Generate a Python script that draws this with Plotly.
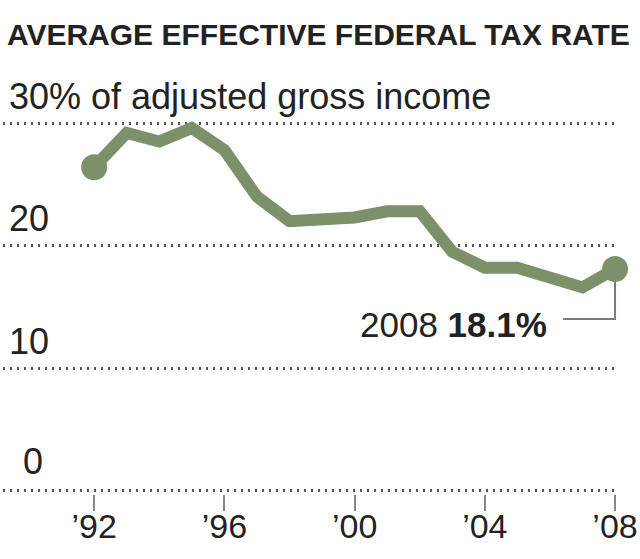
import plotly.graph_objects as go

years = list(range(1992, 2009))
rates = [26.4, 29.2, 28.5, 29.6, 27.8, 24.0, 22.0, 22.1, 22.3, 22.8, 22.8,
         19.5, 18.2, 18.2, 17.4, 16.6, 18.1]

xtick_vals = [1992, 1996, 2000, 2004, 2008]
xtick_text = ["’92", "’96", "’00", "’04", "’08"]
ytick_vals = [0, 10, 20, 30]
ytick_text = ["0", "10", "20", "30% of adjusted gross income"]

title_text = "AVERAGE EFFECTIVE FEDERAL TAX RATE"
callout_year = "2008"
callout_value = "18.1%"

line_color = "#7c9069"
font_family = "Liberation Sans, Arial, sans-serif"

fig = go.Figure()
fig.add_trace(go.Scatter(
    x=years, y=rates, mode="lines",
    line=dict(color=line_color, width=12),
    cliponaxis=False, hoverinfo="skip", showlegend=False,
))
fig.add_trace(go.Scatter(
    x=[years[0], years[-1]], y=[rates[0], rates[-1]], mode="markers",
    marker=dict(color=line_color, size=26),
    cliponaxis=False, hoverinfo="skip", showlegend=False,
))

annotations = []
annotations.append(dict(
    text="<b>" + title_text + "</b>", xref="paper", yref="paper",
    x=0, y=1, xshift=2, yshift=86, xanchor="left", yanchor="middle",
    showarrow=False, font=dict(size=30, color="#222", family=font_family),
))
for v, t in zip(ytick_vals, ytick_text):
    if len(t) == 1:
        annotations.append(dict(text=t, xref="paper", yref="y", x=0, y=v,
                                xshift=42, yshift=29, xanchor="right", yanchor="middle",
                                showarrow=False,
                                font=dict(size=36, color="#222", family=font_family)))
    else:
        annotations.append(dict(text=t, xref="paper", yref="y", x=0, y=v,
                                xshift=4, yshift=27, xanchor="left", yanchor="middle",
                                showarrow=False,
                                font=dict(size=36, color="#222", family=font_family)))
annotations.append(dict(
    text=callout_year + " <b>" + callout_value + "</b>",
    xref="x", yref="y", x=years[-1], y=rates[-1], xshift=-66, yshift=-56,
    xanchor="right", yanchor="middle", showarrow=False,
    font=dict(size=35, color="#222", family=font_family),
))

fig.add_shape(
    type="path", xref="x", yref="y", xsizemode="pixel", ysizemode="pixel",
    xanchor=years[-1], yanchor=rates[-1],
    path="M -52,-50 L 0,-50 L 0,-8",
    line=dict(color="#7a7a7a", width=2), layer="below",
)

fig.update_layout(
    width=640, height=559,
    margin=dict(l=3, r=23, t=120, b=65),
    plot_bgcolor="white", paper_bgcolor="white",
    font=dict(family=font_family, color="#222"),
    annotations=annotations,
    xaxis=dict(
        range=[1989.2, 2008.06], tickvals=xtick_vals, ticktext=xtick_text,
        showgrid=False, zeroline=False, showline=False,
        ticks="outside", ticklen=16, tickwidth=2, tickcolor="#888",
        ticklabelstandoff=-14,
        tickfont=dict(size=34, color="#222", family=font_family),
    ),
    yaxis=dict(
        range=[-0.25, 30.25], tickvals=ytick_vals, showticklabels=False,
        showgrid=True, gridcolor="#555", gridwidth=2.5, griddash="2px,5px",
        zeroline=False, showline=False,
    ),
)

fig.write_html("out.html", config={"displayModeBar": False},
               post_script="document.body.style.margin='0';")
